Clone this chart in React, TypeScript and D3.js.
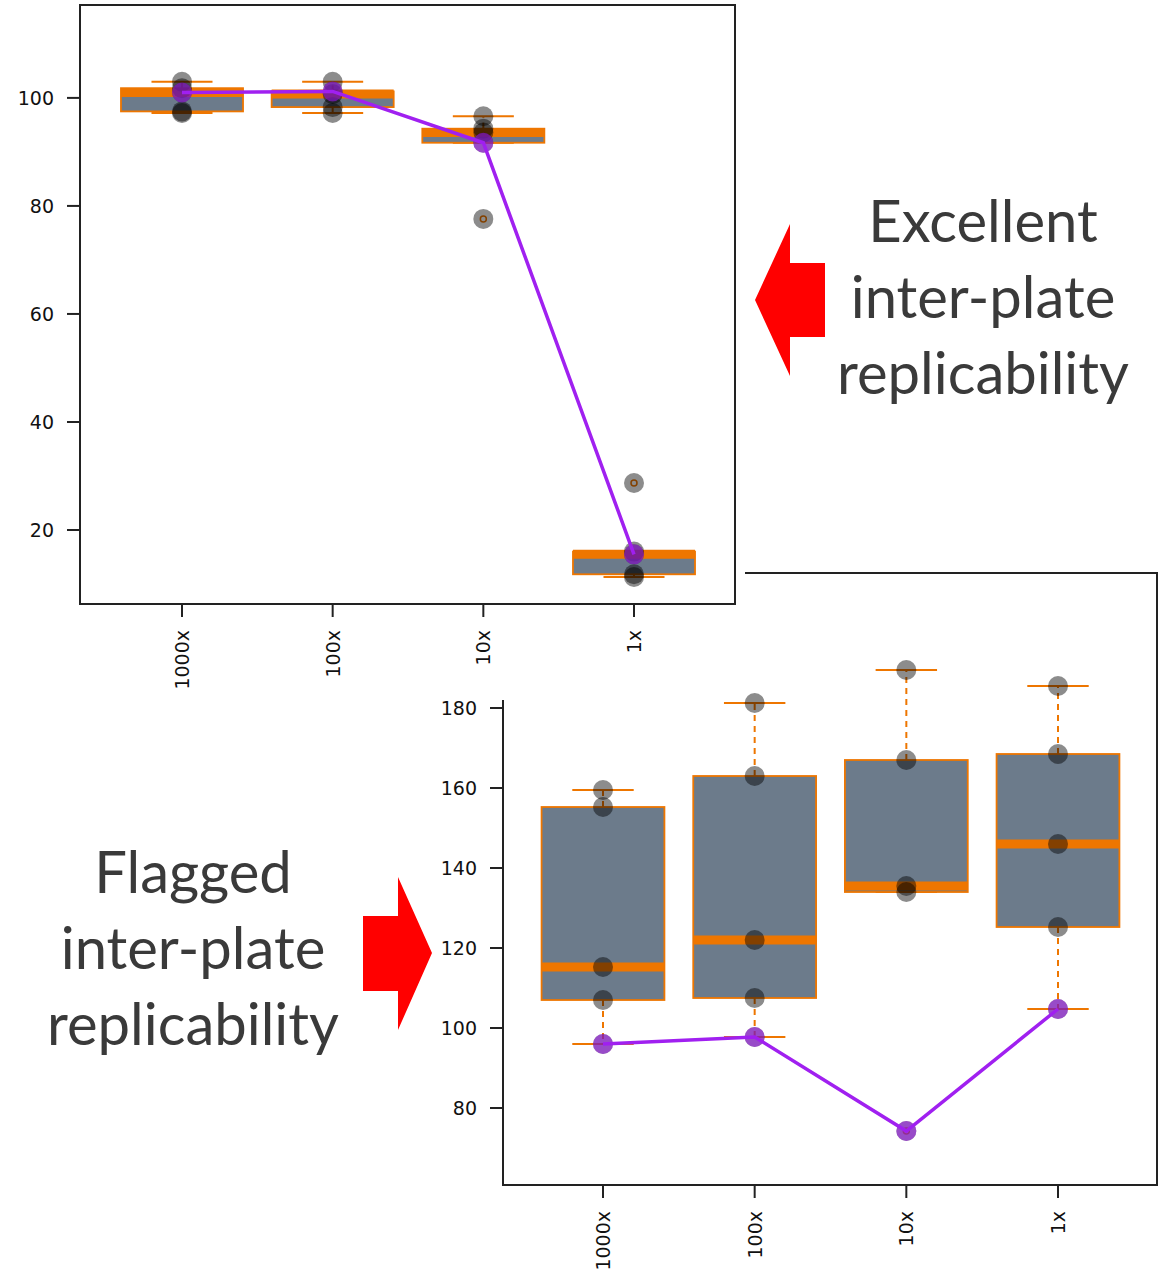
import * as d3 from "d3";
import React from "react";

const categories = ["1000x", "100x", "10x", "1x"];

// upper panel: the other plates, and the plate under review (purple)
const topReplicates = [
  [103.0, 101.8, 97.5, 97.2],
  [103.0, 100.7, 98.3, 97.2],
  [96.6, 94.3, 93.6, 77.6],
  [28.7, 16.0, 11.8, 11.3],
];
const topPlate = [101.0, 101.2, 91.7, 15.5];
const topTicks = [20, 40, 60, 80, 100];

// lower panel
const bottomReplicates = [
  [159.5, 155.25, 115.25, 107.0],
  [181.25, 163.0, 122.0, 107.5],
  [189.5, 167.0, 135.5, 134.0],
  [185.5, 168.5, 146.0, 125.25],
];
const bottomPlate = [96.0, 97.75, 74.25, 104.75];
const bottomTicks = [80, 100, 120, 140, 160, 180];

const excellentLines = ["Excellent", "inter-plate", "replicability"];
const flaggedLines = ["Flagged", "inter-plate", "replicability"];

const ORANGE = "#EE7600";
const SLATE = "#6C7B8B";
const PURPLE = "#A020F0";
const AXIS = "#222";
const TICK_FONT = "'DejaVu Sans', Verdana, sans-serif";
const NOTE_FONT = "Lato, 'Open Sans', sans-serif";

function boxStats(vals: number[]) {
  const s = [...vals].sort(d3.ascending);
  const q1 = d3.quantileSorted(s, 0.25)!;
  const med = d3.quantileSorted(s, 0.5)!;
  const q3 = d3.quantileSorted(s, 0.75)!;
  const iqr = q3 - q1;
  const inside = s.filter(v => v >= q1 - 1.5 * iqr && v <= q3 + 1.5 * iqr);
  return {
    q1, med, q3,
    lo: d3.min(inside)!,
    hi: d3.max(inside)!,
    outliers: s.filter(v => !inside.includes(v)),
  };
}

type Frame = { left: number; right: number; top: number; bottom: number };

function BoxPanel({ replicates, plate, ticks, frame, xRange, yDomain, white }: {
  replicates: number[][]; plate: number[]; ticks: number[]; frame: Frame;
  xRange: [number, number]; yDomain: [number, number]; white?: boolean;
}) {
  const x = d3.scalePoint<string>().domain(categories).range(xRange);
  const y = d3.scaleLinear().domain(yDomain).range([frame.bottom, frame.top]);
  const boxW = x.step() * 0.81;
  const capW = boxW / 2;
  const line = d3.line<number>()
    .x((_, i) => x(categories[i])!)
    .y(d => y(d));

  return (
    <g>
      <rect x={frame.left} y={frame.top} width={frame.right - frame.left}
        height={frame.bottom - frame.top} fill={white ? "#fff" : "none"} />

      {categories.map((c, i) => {
        const cx = x(c)!;
        const st = boxStats([...replicates[i], plate[i]]);
        return (
          <g key={c}>
            <line x1={cx} x2={cx} y1={y(st.q3)} y2={y(st.hi)} stroke={ORANGE}
              strokeWidth={2} strokeDasharray="6 5" />
            <line x1={cx} x2={cx} y1={y(st.q1)} y2={y(st.lo)} stroke={ORANGE}
              strokeWidth={2} strokeDasharray="6 5" />
            <line x1={cx - capW / 2} x2={cx + capW / 2} y1={y(st.hi)} y2={y(st.hi)}
              stroke={ORANGE} strokeWidth={2} />
            <line x1={cx - capW / 2} x2={cx + capW / 2} y1={y(st.lo)} y2={y(st.lo)}
              stroke={ORANGE} strokeWidth={2} />
            <rect x={cx - boxW / 2} y={y(st.q3)} width={boxW} height={y(st.q1) - y(st.q3)}
              fill={SLATE} stroke={ORANGE} strokeWidth={1.8} />
            <line x1={cx - boxW / 2} x2={cx + boxW / 2} y1={y(st.med)} y2={y(st.med)}
              stroke={ORANGE} strokeWidth={9} />
            {st.outliers.map((o, k) => (
              <circle key={k} cx={cx} cy={y(o)} r={3} fill="none" stroke={ORANGE} strokeWidth={1.5} />
            ))}
          </g>
        );
      })}

      {categories.map((c, i) =>
        [...replicates[i], plate[i]].map((v, k) => (
          <circle key={c + k} cx={x(c)} cy={y(v)} r={10} fill="#000" fillOpacity={0.45} />
        ))
      )}

      <path d={line(plate)!} fill="none" stroke={PURPLE} strokeWidth={3.5} />
      {plate.map((v, i) => (
        <circle key={i} cx={x(categories[i])} cy={y(v)} r={10} fill={PURPLE} fillOpacity={0.6} />
      ))}

      <rect x={frame.left} y={frame.top} width={frame.right - frame.left}
        height={frame.bottom - frame.top} fill="none" stroke={AXIS} strokeWidth={2} />

      {ticks.map(t => (
        <g key={t} transform={`translate(${frame.left},${y(t)})`}>
          <line x1={-13} x2={0} stroke={AXIS} strokeWidth={2} />
          <text x={-26} dy="0.36em" textAnchor="end" fontFamily={TICK_FONT} fontSize={19}
            fill="#111">{t}</text>
        </g>
      ))}

      {categories.map(c => (
        <g key={c} transform={`translate(${x(c)},${frame.bottom})`}>
          <line y1={0} y2={13} stroke={AXIS} strokeWidth={2} />
          <text transform="translate(7,26) rotate(-90)" textAnchor="end" fontFamily={TICK_FONT}
            fontSize={19} fill="#111">{c}</text>
        </g>
      ))}
    </g>
  );
}

function Note({ lines, cx, y0, gap }: { lines: string[]; cx: number; y0: number; gap: number }) {
  return (
    <text fontFamily={NOTE_FONT} fontSize={58} fill="#3a3a3a" textAnchor="middle">
      {lines.map((l, i) => (
        <tspan key={l + i} x={cx} y={y0 + i * gap}>{l}</tspan>
      ))}
    </text>
  );
}

export default function App() {
  return (
    <svg width={1166} height={1271} style={{ position: "absolute", left: 0, top: 0, background: "#fff" }}>
      <BoxPanel
        replicates={bottomReplicates}
        plate={bottomPlate}
        ticks={bottomTicks}
        frame={{ left: 503, right: 1157, top: 573, bottom: 1185 }}
        xRange={[603, 1058]}
        yDomain={[60.75, 213.75]}
        white
      />

      {/* the upper plot image sits on top of the lower one */}
      <rect x={0} y={0} width={745} height={700} fill="#fff" />
      <BoxPanel
        replicates={topReplicates}
        plate={topPlate}
        ticks={topTicks}
        frame={{ left: 80, right: 735, top: 5, bottom: 604 }}
        xRange={[182, 634]}
        yDomain={[6.3, 117.2]}
      />

      <polygon points="755,300 790,224 790,263 825,263 825,337 790,337 790,376" fill="#ff0000" />
      <polygon points="363,916 398,916 398,877 432,953 398,1030 398,991 363,991" fill="#ff0000" />

      <Note lines={excellentLines} cx={983} y0={242} gap={76} />
      <Note lines={flaggedLines} cx={193} y0={893} gap={76} />
    </svg>
  );
}
